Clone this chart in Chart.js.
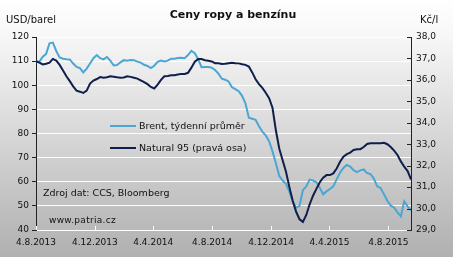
<!DOCTYPE html>
<html>
<head>
<meta charset="utf-8">
<script src="https://cdn.jsdelivr.net/npm/chart.js@4.4.1/dist/chart.umd.min.js"></script>
<style>
  html, body { margin: 0; padding: 0; }
  body {
    width: 453px; height: 257px; overflow: hidden;
    background: linear-gradient(to bottom, #ffffff 0%, #f7f7f7 14%, #b0b0b0 100%);
    font-family: 'DejaVu Sans', sans-serif;
  }
  #wrap { position: relative; width: 453px; height: 257px; }
  canvas { position: absolute; left: 0; top: 0; }
  .t { position: absolute; white-space: nowrap; color: #111; line-height: 12px; font-size: 9.5px; }
  .sw { position: absolute; height: 2px; width: 26px; }
</style>
</head>
<body>
<div id="wrap">
  <canvas id="chart" width="453" height="257"></canvas>
  <div class="t" style="left:233px; top:9px; transform:translateX(-50%); font-weight:bold; font-size:11px;">Ceny ropy a benzínu</div>
  <div class="t" style="left:6px; top:14px; font-size:10px;">USD/barel</div>
  <div class="t" style="left:420px; top:14px; font-size:10px;">Kč/l</div>
  <div class="sw" style="left:110px; top:125px; background:#4ba6d3;"></div>
  <div class="t" style="left:139px; top:120px;">Brent, týdenní průměr</div>
  <div class="sw" style="left:110px; top:147px; background:#0f1e4b;"></div>
  <div class="t" style="left:139px; top:142px;">Natural 95 (pravá osa)</div>
  <div class="t" style="left:43px; top:187px;">Zdroj dat: CCS, Bloomberg</div>
  <div class="t" style="left:49px; top:214px; font-size:9px; letter-spacing:0.3px;">www.patria.cz</div>
</div>
<script>
// weekly values starting 4.8.2013
const brent = [110, 109.7, 111.8, 113, 117.4, 117.7, 114.2, 111.5, 111, 110.8,
  110.7, 109, 107.6, 107.1, 105.3, 106.9, 109, 111.2, 112.5, 111.2,
  110.7, 111.7, 110.2, 108.2, 108.4, 109.5, 110.4, 110.2, 110.5, 110.4,
  109.8, 109.4, 108.5, 108, 107.1, 108.1, 109.7, 110.2, 109.9, 110.2,
  111, 111, 111.3, 111.4, 111.2, 112.5, 114.3, 113.3, 110.8, 107.5,
  107.6, 107.6, 107.3, 106.3, 104.8, 102.7, 102.3, 101.6, 99.2, 98.4,
  97.5, 95.6, 92.5, 86.5, 86.1, 85.7, 83, 80.8, 79.2, 76.8,
  72.6, 67.7, 62.5, 60.5, 59.1, 55.9, 51.8, 49.2, 50, 56.5,
  58.1, 60.9, 60.5, 59.8, 57.5, 54.8, 56, 57, 58.1, 61,
  63.8, 65.7, 67, 66.3, 64.8, 64, 64.7, 65.1, 63.6, 63.2,
  61.3, 58.1, 57.4, 54.8, 52.1, 50.1, 49.3, 47.3, 45.7, 51.9,
  49.8, 48.2];

const natural = [36.88, 36.8, 36.72, 36.75, 36.8, 36.98, 36.9, 36.7, 36.44, 36.17,
  35.94, 35.7, 35.5, 35.45, 35.39, 35.5, 35.83, 35.97, 36.04, 36.13,
  36.1, 36.12, 36.17, 36.15, 36.12, 36.1, 36.11, 36.17, 36.14, 36.1,
  36.06, 35.98, 35.9, 35.8, 35.67, 35.6, 35.78, 36.0, 36.17, 36.18,
  36.22, 36.22, 36.25, 36.28, 36.28, 36.33, 36.57, 36.85, 36.97, 36.97,
  36.92, 36.89, 36.86, 36.78, 36.78, 36.74, 36.75, 36.78, 36.8, 36.78,
  36.77, 36.73, 36.7, 36.62, 36.35, 36.03, 35.8, 35.63, 35.4, 35.15,
  34.7, 33.65, 32.8, 32.25, 31.72, 31.0, 30.35, 29.85, 29.5, 29.38,
  29.7, 30.2, 30.6, 30.92, 31.23, 31.44, 31.56, 31.56, 31.64, 31.87,
  32.18, 32.42, 32.54, 32.61, 32.73, 32.76, 32.77, 32.87, 33.01, 33.04,
  33.04, 33.04, 33.05, 33.07, 33.0, 32.87, 32.7, 32.5, 32.2, 31.95,
  31.75, 31.36];

// x tick positions in days from 4.8.2013
const tickDays = [0, 122, 243, 365, 487, 608, 730];
const tickLabels = ['4.8.2013', '4.12.2013', '4.4.2014', '4.8.2014', '4.12.2014', '4.4.2015', '4.8.2015'];

const blue = '#4ba6d3';
const navy = '#0f1e4b';
const tickFont = { family: "'DejaVu Sans', sans-serif", size: 9 };

const innerTicks = {
  id: 'innerTicks',
  afterDraw(chart) {
    const { ctx, chartArea, scales } = chart;
    ctx.save();
    ctx.lineWidth = 1;
    ctx.strokeStyle = '#222';
    scales.yR.ticks.forEach(t => {
      const y = Math.round(scales.yR.getPixelForValue(t.value)) + 0.5;
      ctx.beginPath();
      ctx.moveTo(chartArea.right - 4, y);
      ctx.lineTo(chartArea.right, y);
      ctx.stroke();
    });
    ctx.strokeStyle = '#ffffff';
    scales.x.ticks.forEach(t => {
      const x = Math.round(scales.x.getPixelForValue(t.value)) + 0.5;
      ctx.beginPath();
      ctx.moveTo(x, chartArea.bottom - 4);
      ctx.lineTo(x, chartArea.bottom);
      ctx.stroke();
    });
    ctx.restore();
  }
};

new Chart(document.getElementById('chart'), {
  type: 'line',
  data: {
    datasets: [{
      label: 'Natural 95 (pravá osa)',
      data: natural.map((v, i) => ({ x: i * 7, y: v })),
      yAxisID: 'yR',
      borderColor: navy,
      borderWidth: 2,
      pointRadius: 0,
      order: 0
    }, {
      label: 'Brent, týdenní průměr',
      data: brent.map((v, i) => ({ x: i * 7, y: v })),
      yAxisID: 'yL',
      borderColor: blue,
      borderWidth: 2,
      pointRadius: 0,
      order: 1
    }]
  },
  options: {
    responsive: false,
    animation: false,
    devicePixelRatio: 1,
    layout: { padding: { top: 37, left: 0, right: 0, bottom: 0 } },
    plugins: { legend: { display: false }, tooltip: { enabled: false } },
    scales: {
      x: {
        type: 'linear',
        min: 0,
        max: 777,
        afterFit(s) { s.height = 27; },
        afterBuildTicks(s) { s.ticks = tickDays.map(v => ({ value: v })); },
        ticks: {
          callback: (v, i) => tickLabels[i],
          font: tickFont, color: '#111', padding: 7,
          maxRotation: 0, autoSkip: false
        },
        grid: { display: false, drawTicks: false },
        border: { color: '#ffffff', width: 1 }
      },
      yL: {
        position: 'left',
        min: 40,
        max: 120,
        afterFit(s) { s.width = 36; },
        ticks: { stepSize: 10, padding: 3, font: tickFont, color: '#111' },
        grid: { color: '#ffffff', lineWidth: 1, tickColor: '#222', tickLength: 4 },
        border: { color: '#222', width: 1 }
      },
      yR: {
        position: 'right',
        min: 29,
        max: 38,
        afterFit(s) { s.width = 42; },
        ticks: {
          stepSize: 1, padding: 5, font: tickFont, color: '#111',
          callback: v => v.toFixed(1).replace('.', ',')
        },
        grid: { drawOnChartArea: false, drawTicks: false },
        border: { color: '#222', width: 1 }
      }
    }
  },
  plugins: [innerTicks]
});
</script>
</body>
</html>
